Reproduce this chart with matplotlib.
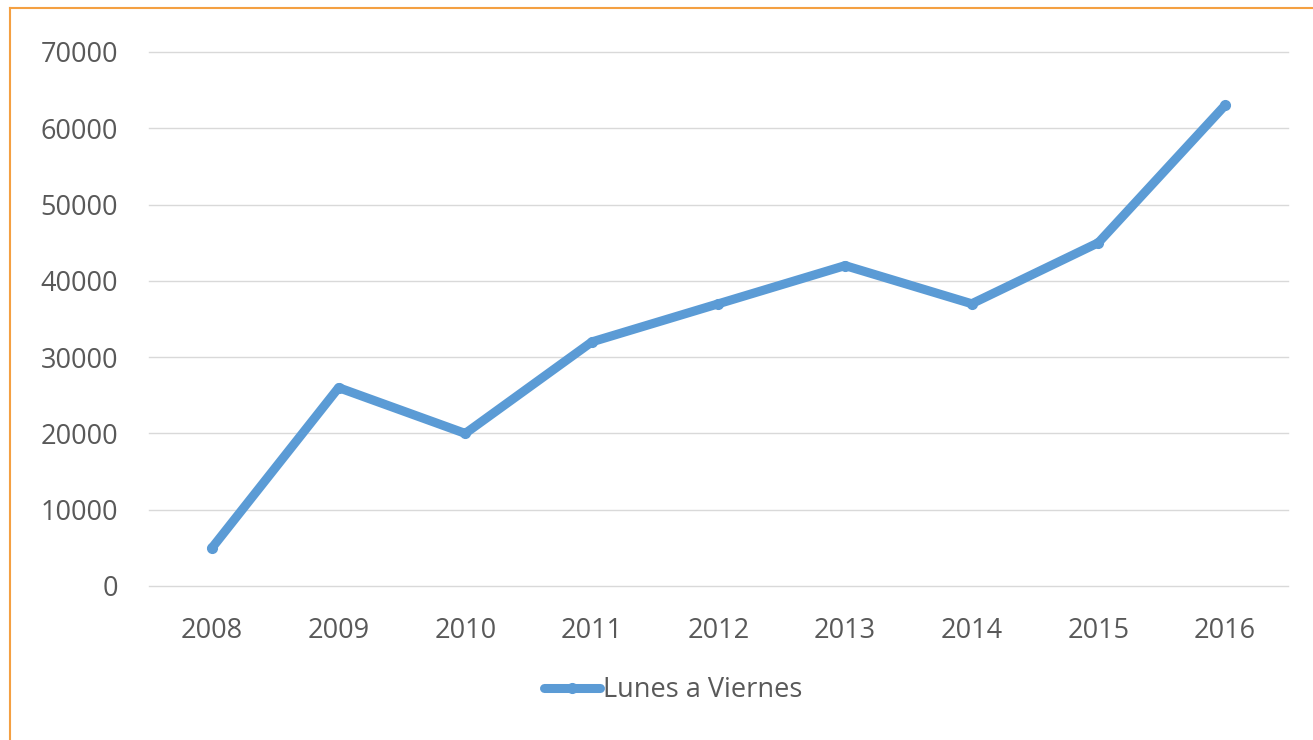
import matplotlib
matplotlib.use("Agg")
import matplotlib.pyplot as plt
from matplotlib.lines import Line2D

years = ["2008", "2009", "2010", "2011", "2012", "2013", "2014", "2015", "2016"]
values = [5000, 26000, 20000, 32000, 37000, 42000, 37000, 45000, 63000]
series_name = "Lunes a Viernes"
yticks = [0, 10000, 20000, 30000, 40000, 50000, 60000, 70000]

plt.rcParams['font.family'] = ['Open Sans', 'DejaVu Sans']

W, H = 1313, 740
fig = plt.figure(figsize=(W / 100, H / 100), dpi=100)
ax = fig.add_axes([148.7 / W, 1 - 586 / H, (1288.3 - 148.7) / W, (586 - 52) / H])

x = list(range(len(years)))
ax.plot(x, values, color="#5B9BD5", linewidth=6.5, marker="o", markersize=7,
        solid_capstyle="round", solid_joinstyle="round", label=series_name, zorder=3)

ax.set_xlim(-0.5, len(years) - 0.5)
ax.set_ylim(0, 70000)
ax.set_yticks(yticks)
ax.set_yticklabels([str(v) for v in yticks])
ax.set_xticks(x)
ax.set_xticklabels(years)
ax.grid(axis="y", color="#D9D9D9", linewidth=1)
for gl in ax.get_ygridlines():
    gl.set_clip_on(False)
ax.set_axisbelow(True)
for s in ax.spines.values():
    s.set_visible(False)
ax.tick_params(length=0, labelsize=19.5, colors="#595959")
ax.tick_params(axis="y", pad=22)
ax.tick_params(axis="x", pad=22)

leg = fig.legend(loc="center", bbox_to_anchor=(673 / W, 1 - 690 / H), frameon=False,
                 fontsize=19.5, handlelength=2.1, handletextpad=0.1, labelcolor="#595959")

orange = "#F4A042"
fig.add_artist(Line2D([9.5 / W, 1], [1 - 7.5 / H, 1 - 7.5 / H], color=orange, linewidth=1.5, transform=fig.transFigure))
fig.add_artist(Line2D([9.5 / W, 9.5 / W], [0, 1 - 7.5 / H], color=orange, linewidth=1.5, transform=fig.transFigure))

fig.savefig("out.png", dpi=100, facecolor="white")
